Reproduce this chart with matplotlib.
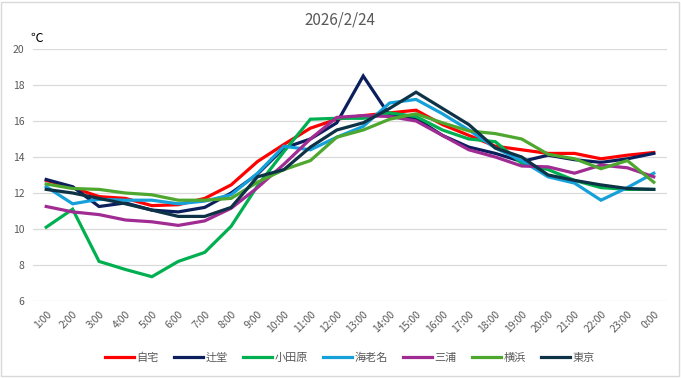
import matplotlib
matplotlib.use("Agg")
import matplotlib.pyplot as plt
from matplotlib.patches import Rectangle

plt.rcParams["font.family"] = ["Noto Sans CJK JP", "DejaVu Sans"]

hours = ["1:00", "2:00", "3:00", "4:00", "5:00", "6:00", "7:00", "8:00",
         "9:00", "10:00", "11:00", "12:00", "13:00", "14:00", "15:00", "16:00",
         "17:00", "18:00", "19:00", "20:00", "21:00", "22:00", "23:00", "0:00"]

jitaku = [12.7, 12.3, 11.8, 11.7, 11.3, 11.35, 11.7, 12.45, 13.75, 14.7, 15.6, 16.1,
          16.3, 16.45, 16.6, 15.8, 15.2, 14.6, 14.4, 14.2, 14.2, 13.9, 14.1, 14.25]
tsujido = [12.75, 12.35, 11.25, 11.45, 11.05, 10.95, 11.2, 12.0, 13.05, 14.5, 15.0, 15.9,
           18.5, 16.3, 16.15, 15.2, 14.55, 14.2, 13.75, 14.1, 13.85, 13.7, 13.9, 14.2]
odawara = [10.1, 11.1, 8.2, 7.75, 7.35, 8.2, 8.7, 10.15, 12.4, 14.3, 16.1, 16.15,
           16.15, 16.45, 16.25, 15.5, 15.0, 14.85, 13.65, 13.3, 12.7, 12.3, 12.2, 12.2]
ebina = [12.35, 11.4, 11.65, 11.6, 11.6, 11.4, 11.55, 11.9, 13.1, 14.6, 14.4, 15.1,
         15.7, 17.0, 17.2, 16.4, 15.5, 14.5, 13.8, 12.9, 12.55, 11.6, 12.3, 13.1]
miura = [11.25, 10.95, 10.8, 10.5, 10.4, 10.2, 10.45, 11.15, 12.3, 13.6, 15.0, 16.2,
         16.3, 16.25, 16.0, 15.2, 14.4, 14.0, 13.5, 13.45, 13.1, 13.55, 13.4, 12.9]
yokohama = [12.5, 12.25, 12.2, 12.0, 11.9, 11.6, 11.6, 11.7, 12.6, 13.3, 13.8, 15.1,
            15.5, 16.1, 16.4, 15.9, 15.45, 15.3, 15.0, 14.15, 13.9, 13.35, 13.8, 12.6]
tokyo = [12.2, 12.0, 11.7, 11.4, 11.05, 10.7, 10.7, 11.2, 12.9, 13.3, 14.55, 15.5,
         15.9, 16.7, 17.6, 16.7, 15.8, 14.5, 14.0, 13.0, 12.7, 12.45, 12.25, 12.2]

series = [
    ("自宅", jitaku, "#FF0000"),
    ("辻堂", tsujido, "#0A1F5C"),
    ("小田原", odawara, "#00B050"),
    ("海老名", ebina, "#16A0DA"),
    ("三浦", miura, "#A02B93"),
    ("横浜", yokohama, "#4EA72E"),
    ("東京", tokyo, "#0E3346"),
]

fig = plt.figure(figsize=(6.81, 3.78), dpi=100)
ax = fig.add_axes([33 / 681, 1 - 301 / 378, 634 / 681, 252 / 378])

x = list(range(len(hours)))
for name, vals, col in series:
    ax.plot(x, vals, color=col, lw=2.3, label=name, solid_joinstyle="miter")

ax.set_xlim(-0.5, len(hours) - 0.5)
ax.set_ylim(6, 20)
ax.set_yticks(range(6, 21, 2))
ax.set_xticks(x)
ax.set_xticklabels(hours, rotation=45, ha="right", rotation_mode="anchor")
ax.tick_params(axis="both", length=0, labelsize=7.5, colors="#595959", pad=6)
ax.tick_params(axis="y", pad=6)
ax.grid(axis="y", color="#D9D9D9", lw=0.9)
ax.set_axisbelow(True)
for s in ax.spines.values():
    s.set_visible(False)

fig.text(340 / 681, 1 - 20 / 378, "2026/2/24", ha="center", va="center",
         fontsize=11, color="#595959")
fig.text(30 / 681, 1 - 38 / 378, "℃", ha="left", va="center", fontsize=9, color="#000000")

ax.legend(loc="center", bbox_to_anchor=(0.5, -0.225), ncol=7, frameon=False,
          fontsize=8, handlelength=2.6, handletextpad=0.2, columnspacing=1.4,
          labelcolor="#595959")

fig.patches.append(Rectangle((0.002, 0.004), 0.995, 0.992, transform=fig.transFigure,
                             fill=False, edgecolor="#D9D9D9", lw=1))

fig.savefig("out.png", dpi=100)
